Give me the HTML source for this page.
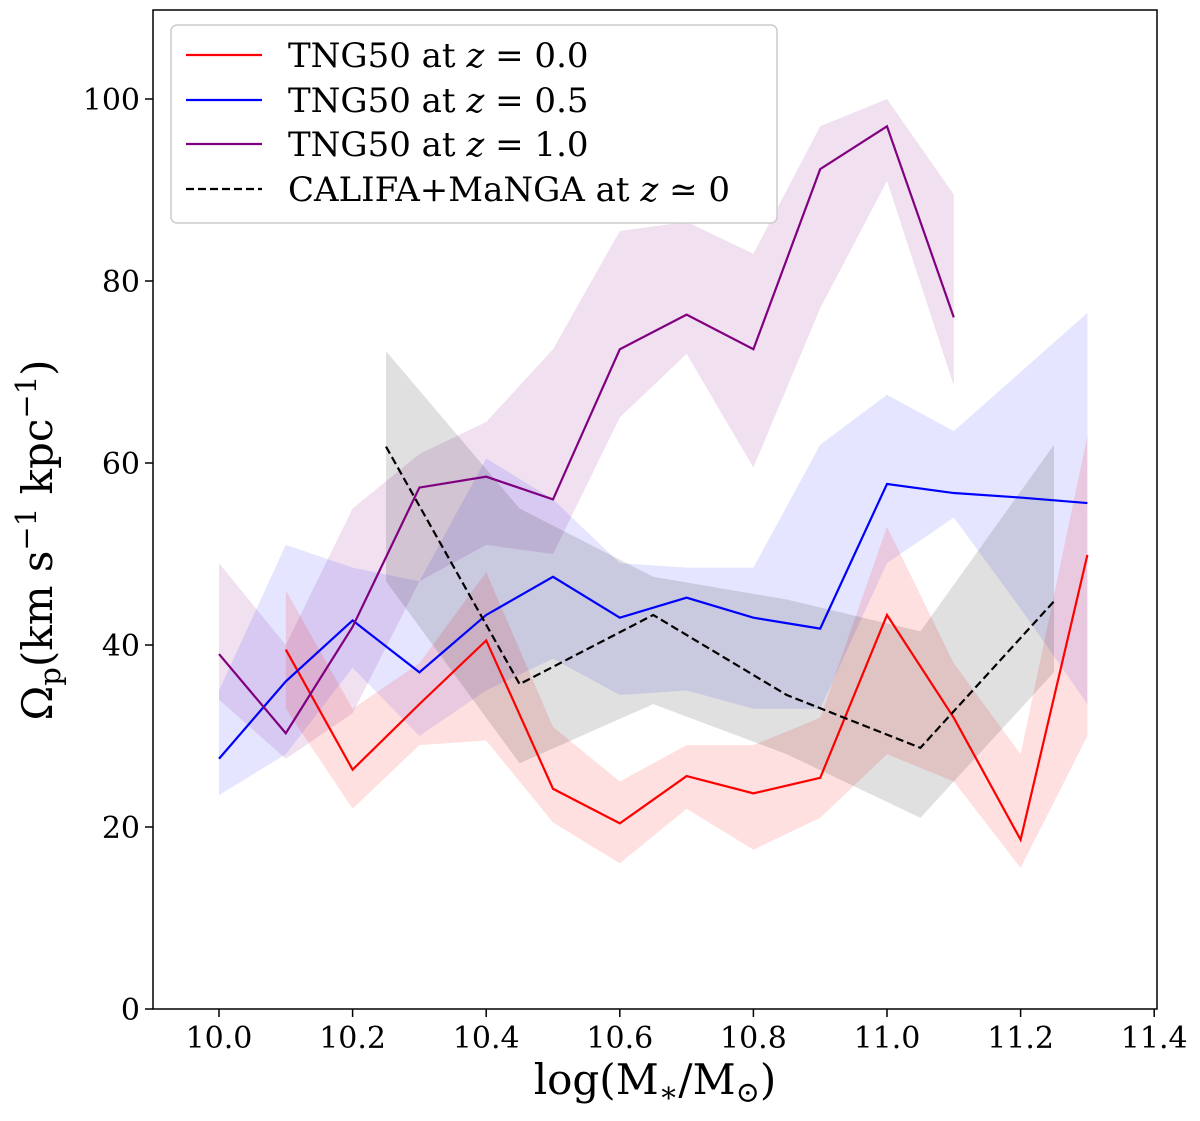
<!DOCTYPE html>
<html><head><meta charset="utf-8"><style>
html,body{margin:0;padding:0;background:#fff;}
svg text{font-family:"DejaVu Serif","Liberation Serif",serif;}
</style></head><body>
<svg id="chart" width="1200" height="1116" xmlns="http://www.w3.org/2000/svg">
<g id="bands"></g>
<g id="lines"></g>
<rect x="153" y="10" width="1004" height="999" fill="none" stroke="#000" stroke-width="1.5"/>
<g id="xticks"></g>
<g id="yticks"></g>
<text x="655" y="1094" font-size="42" text-anchor="middle">log(M<tspan font-size="29" dy="8">∗</tspan><tspan dy="-8">/M</tspan><tspan font-size="29" dy="8">⊙</tspan><tspan dy="-8">)</tspan></text>
<text transform="translate(52,540) rotate(-90)" font-size="42" text-anchor="middle">Ω<tspan font-size="29" dy="8">p</tspan><tspan dy="-8">(km s</tspan><tspan font-size="29" dy="-16">−1</tspan><tspan dy="16"> kpc</tspan><tspan font-size="29" dy="-16">−1</tspan><tspan dy="16">)</tspan></text>
<g>
<rect x="171" y="25" width="606" height="198" rx="6" fill="#fff" fill-opacity="0.85" stroke="#ccc" stroke-width="1.5"/>
<line x1="186" y1="55" x2="262" y2="55" stroke="#ff0000" stroke-width="2.2"/>
<text x="288" y="67" font-size="34">TNG50 at <tspan font-style="italic">z</tspan> = 0.0</text>
<line x1="186" y1="100" x2="262" y2="100" stroke="#0000ff" stroke-width="2.2"/>
<text x="288" y="112" font-size="34">TNG50 at <tspan font-style="italic">z</tspan> = 0.5</text>
<line x1="186" y1="144" x2="262" y2="144" stroke="#800080" stroke-width="2.2"/>
<text x="288" y="156" font-size="34">TNG50 at <tspan font-style="italic">z</tspan> = 1.0</text>
<line x1="186" y1="189" x2="262" y2="189" stroke="#000" stroke-width="2.2" stroke-dasharray="8,4"/>
<text x="288" y="201" font-size="34">CALIFA+MaNGA at <tspan font-style="italic">z</tspan> ≃ 0</text>
</g>
</svg>
<script>
const xTicks=[10.0,10.2,10.4,10.6,10.8,11.0,11.2,11.4];
const yTicks=[0,20,40,60,80,100];
const xRed=[10.1,10.2,10.3,10.4,10.5,10.6,10.7,10.8,10.9,11.0,11.1,11.2,11.3];
const yRed=[39.5,26.3,33.5,40.5,24.2,20.4,25.6,23.7,25.4,43.3,32,18.6,49.9];
const hiRed=[46,33,38,48,31,25,29,29,32,53,38,28,63];
const loRed=[33,22,29,29.5,20.5,16,22,17.5,21,28,25,15.5,30];
const xBlue=[10.0,10.1,10.2,10.3,10.4,10.5,10.6,10.7,10.8,10.9,11.0,11.1,11.2,11.3];
const yBlue=[27.5,36,42.7,37,43.3,47.5,43,45.2,43,41.8,57.7,56.7,56.2,55.6];
const hiBlue=[35,51,48.5,47,60.5,56,49,48.5,48.5,62,67.5,63.5,70,76.5];
const loBlue=[23.5,28,37.5,30,35,38.5,34.5,35,33,33,49,54,44,33.5];
const xPur=[10.0,10.1,10.2,10.3,10.4,10.5,10.6,10.7,10.8,10.9,11.0,11.1];
const yPur=[39,30.3,42,57.3,58.5,56,72.5,76.3,72.5,92.3,97,76];
const hiPur=[49,40,55,61,64.5,72.5,85.5,86.5,83,97,100,89.5];
const loPur=[34,27.5,32.5,47,51,50,65,72,59.5,77,91,68.5];
const xObs=[10.25,10.45,10.65,10.85,11.05,11.25];
const yObs=[61.8,35.7,43.3,34.5,28.7,44.8];
const hiObs=[72.3,55,47.5,45,41.5,62];
const loObs=[47,27,33.5,28,21,37];

const NS='http://www.w3.org/2000/svg';
const X=v=>219+(v-10)*668;
const Y=v=>1009-v*9.1;
function mk(tag,attrs,parent){const e=document.createElementNS(NS,tag);for(const k in attrs)e.setAttribute(k,attrs[k]);document.getElementById(parent).appendChild(e);return e;}
function band(xs,hi,lo,color,op,name){
  let d='M'+xs.map((x,i)=>X(x)+','+Y(hi[i])).join('L');
  d+='L'+xs.map((x,i)=>X(x)+','+Y(lo[i])).reverse().join('L')+'Z';
  const p=mk('path',{d:d,fill:color,'fill-opacity':op},'bands');
  
  
}
function line(xs,ys,color,dash,name){
  const p=mk('polyline',{points:xs.map((x,i)=>X(x)+','+Y(ys[i])).join(' '),fill:'none',stroke:color,'stroke-width':2.2,'stroke-dasharray':dash||'none'},'lines');
  
  
}
band(xPur,hiPur,loPur,'#800080',0.12,'band-z1');
band(xBlue,hiBlue,loBlue,'#0000ff',0.1,'band-z05');
band(xRed,hiRed,loRed,'#ff0000',0.12,'band-z0');
band(xObs,hiObs,loObs,'#000000',0.12,'band-obs');
line(xRed,yRed,'#ff0000',null,'line-z0');
line(xBlue,yBlue,'#0000ff',null,'line-z05');
line(xPur,yPur,'#800080',null,'line-z1');
line(xObs,yObs,'#000000','8,4','line-obs');
xTicks.forEach(v=>{
  const t=mk('line',{x1:X(v),x2:X(v),y1:1009,y2:1017,stroke:'#000','stroke-width':1.5},'xticks');
  
  
  const l=mk('text',{x:X(v),y:1048,'font-size':30,'text-anchor':'middle'},'xticks');
  l.textContent=v.toFixed(1);
  
  
});
yTicks.forEach(v=>{
  const t=mk('line',{x1:145,x2:153,y1:Y(v),y2:Y(v),stroke:'#000','stroke-width':1.5},'yticks');
  
  
  const l=mk('text',{x:140,y:Y(v)+11,'font-size':30,'text-anchor':'end'},'yticks');
  l.textContent=v;
  
  
});
</script>
</body></html>
